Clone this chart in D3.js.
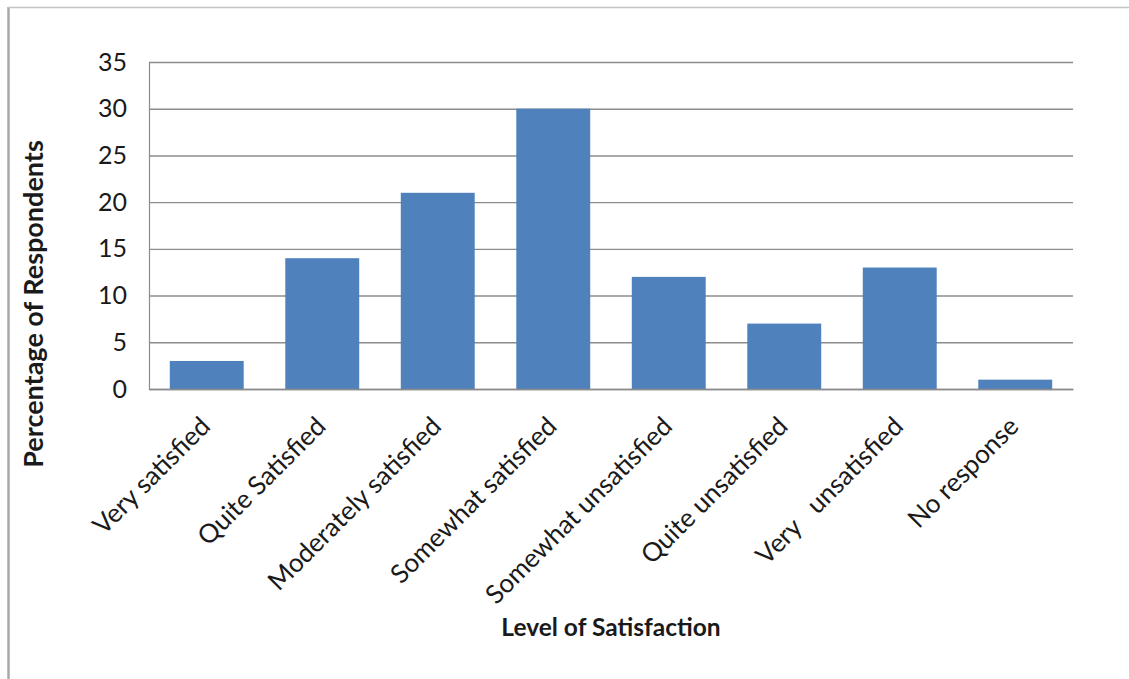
<!DOCTYPE html>
<html>
<head>
<meta charset="utf-8">
<script src="https://cdn.jsdelivr.net/npm/d3@7"></script>
<style>
  html, body { margin: 0; padding: 0; background: #fff; }
  svg { display: block; }
  text { font-family: Lato, "Open Sans", "Liberation Sans", sans-serif; fill: #1a1a1a; }
</style>
</head>
<body>
<svg id="chart" width="1129" height="679"></svg>
<script>
// Survey responses: share of respondents by level of satisfaction
const categories = [
  "Very satisfied",
  "Quite Satisfied",
  "Moderately satisfied",
  "Somewhat satisfied",
  "Somewhat unsatisfied",
  "Quite unsatisfied",
  "Very   unsatisfied",
  "No response"
];
const percentages = [3, 14, 21, 30, 12, 7, 13, 1];
const yTicks = [0, 5, 10, 15, 20, 25, 30, 35];
const xTitle = "Level of Satisfaction";
const yTitle = "Percentage of Respondents";

const W = 1129, H = 679;
const plot = { left: 149, right: 1073, top: 62, bottom: 389 };
const barColor = "#4f81bd";
const gridColor = "#8c8c8c";

const svg = d3.select("#chart");

// chart frame (left and top edges)
svg.append("line")
  .attr("x1", 8.5).attr("x2", 8.5).attr("y1", 7).attr("y2", H)
  .attr("stroke", "#a9a9a9").attr("stroke-width", 2.5);
svg.append("line")
  .attr("x1", 8).attr("x2", W).attr("y1", 7.5).attr("y2", 7.5)
  .attr("stroke", "#c4c4c4").attr("stroke-width", 1.5);

const x = d3.scaleBand()
  .domain(categories)
  .range([plot.left, plot.right])
  .paddingInner(0.36)
  .paddingOuter(0.18);

const y = d3.scaleLinear()
  .domain([0, 35])
  .range([plot.bottom, plot.top]);

// horizontal gridlines and y tick labels
const yAxis = d3.axisLeft(y)
  .tickValues(yTicks)
  .tickSize(-(plot.right - plot.left))
  .tickPadding(22)
  .tickFormat(d3.format("d"));

const gy = svg.append("g")
  .attr("transform", `translate(${plot.left},0)`)
  .call(yAxis);
gy.select(".domain").attr("stroke", gridColor).attr("stroke-width", 1.2);
gy.selectAll(".tick line").attr("stroke", gridColor).attr("stroke-width", 1.4);
gy.selectAll(".tick text")
  .attr("font-size", 25)
  .attr("fill", "#1a1a1a")
  .style("font-family", "Lato, 'Open Sans', sans-serif");

// bars
svg.append("g")
  .selectAll("rect")
  .data(percentages)
  .join("rect")
  .attr("x", (d, i) => x(categories[i]))
  .attr("y", d => y(d))
  .attr("width", x.bandwidth())
  .attr("height", d => y(0) - y(d))
  .attr("fill", barColor);

// category axis: baseline plus rotated labels
const xAxis = d3.axisBottom(x).tickSize(0).tickPadding(0);
const gx = svg.append("g")
  .attr("transform", `translate(0,${plot.bottom})`)
  .call(xAxis);
gx.select(".domain").attr("stroke", gridColor).attr("stroke-width", 1.6);
gx.selectAll(".tick text")
  .attr("font-size", 26)
  .attr("fill", "#1a1a1a")
  .attr("text-anchor", "end")
  .attr("dy", null)
  .attr("y", null)
  .style("white-space", "pre")
  .attr("transform", "translate(5,39) rotate(-45)");

// axis titles
svg.append("text")
  .attr("x", (plot.left + plot.right) / 2)
  .attr("y", 636)
  .attr("text-anchor", "middle")
  .attr("font-size", 24.5)
  .attr("font-weight", "bold")
  .text(xTitle);

svg.append("text")
  .attr("transform", "translate(43,304) rotate(-90)")
  .attr("text-anchor", "middle")
  .attr("font-size", 27)
  .attr("font-weight", "bold")
  .text(yTitle);
</script>
</body>
</html>
